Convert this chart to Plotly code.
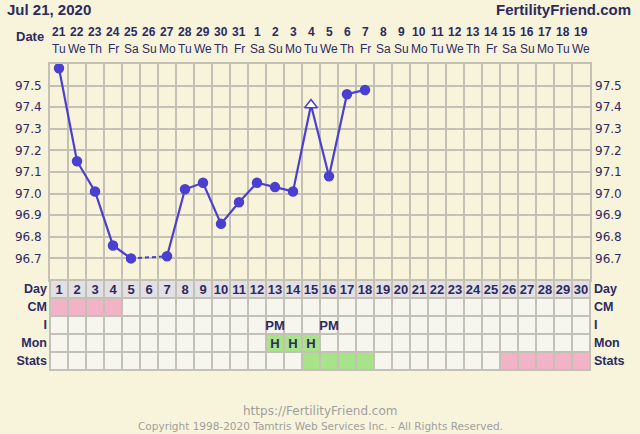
import plotly.graph_objects as go

# ---------------- data ----------------
days = list(range(1, 31))
dates = ["21", "22", "23", "24", "25", "26", "27", "28", "29", "30", "31",
         "1", "2", "3", "4", "5", "6", "7", "8", "9", "10", "11", "12",
         "13", "14", "15", "16", "17", "18", "19"]
weekdays = ["Tu", "We", "Th", "Fr", "Sa", "Su", "Mo", "Tu", "We", "Th", "Fr",
            "Sa", "Su", "Mo", "Tu", "We", "Th", "Fr", "Sa", "Su", "Mo", "Tu",
            "We", "Th", "Fr", "Sa", "Su", "Mo", "Tu", "We"]
temps = [97.58, 97.15, 97.01, 96.76, 96.70, None, 96.71, 97.02, 97.05, 96.86,
         96.96, 97.05, 97.03, 97.01, 97.41, 97.08, 97.46, 97.48] + [None] * 12
open_marker_days = [15]
temp_ticks = [96.7, 96.8, 96.9, 97.0, 97.1, 97.2, 97.3, 97.4, 97.5]

row_names = ["Day", "CM", "I", "Mon", "Stats"]
cm_pink_days = [1, 2, 3, 4]
intercourse = {13: "PM", 16: "PM"}
monitor = {13: "H", 14: "H", 15: "H"}
stats_green_days = [15, 16, 17, 18]
stats_pink_days = [26, 27, 28, 29, 30]

# ---------------- styles ----------------
BG = "#f8f4dc"
GRID = "#c3c0b6"
NAVY = "#2c2a60"
PURPLE = "#4b3fd0"
PINK = "#f3b3c6"
GREEN = "#a8e38a"
BLANK = "#f6f6ef"
HEAD = "#e2e0e4"

fig = go.Figure()

# dashed bridges across missing temps
bx, by = [], []
valid = [i for i, t in enumerate(temps) if t is not None]
for a, b in zip(valid, valid[1:]):
    if b - a > 1:
        bx += [days[a], days[b], None]
        by += [temps[a], temps[b], None]
fig.add_trace(go.Scatter(x=bx, y=by, mode="lines",
                         line=dict(color=PURPLE, width=2, dash="4px,3px"),
                         hoverinfo="skip", showlegend=False))

symbols = ["triangle-up" if d in open_marker_days else "circle" for d in days]
fills = ["white" if d in open_marker_days else PURPLE for d in days]
sizes = [11 if d in open_marker_days else 9 for d in days]
fig.add_trace(go.Scatter(x=days, y=temps, mode="lines+markers",
                         line=dict(color=PURPLE, width=2.2),
                         marker=dict(symbol=symbols, color=fills, size=sizes,
                                     opacity=1,
                                     line=dict(color=PURPLE, width=1.5)),
                         connectgaps=False, hoverinfo="skip", showlegend=False))
# right-axis anchor trace
fig.add_trace(go.Scatter(x=[days[0]], y=[temp_ticks[0]], yaxis="y3",
                         mode="markers", marker=dict(opacity=0),
                         hoverinfo="skip", showlegend=False))

# ---------------- table ----------------
z, txt = [], []
for r in row_names:
    zr, tr = [], []
    for d in days:
        if r == "Day":
            zr.append(3); tr.append(str(d))
        elif r == "CM":
            zr.append(1 if d in cm_pink_days else 0); tr.append("")
        elif r == "I":
            zr.append(0); tr.append(intercourse.get(d, ""))
        elif r == "Mon":
            zr.append(2 if d in monitor else 0); tr.append(monitor.get(d, ""))
        else:
            zr.append(2 if d in stats_green_days else (1 if d in stats_pink_days else 0))
            tr.append("")
    z.append(zr); txt.append(tr)

fig.add_trace(go.Heatmap(x=days, y=row_names, z=z, text=txt,
                         texttemplate="%{text}",
                         textfont=dict(family="Liberation Sans", size=13,
                                       color=NAVY, weight="bold"),
                         zmin=0, zmax=3, showscale=False,
                         colorscale=[[0, BLANK], [1/3, PINK], [2/3, GREEN], [1, HEAD]],
                         xgap=2, ygap=2, xaxis="x2", yaxis="y2",
                         hoverinfo="skip"))
fig.add_trace(go.Scatter(x=[days[0]] * len(row_names), y=row_names,
                         xaxis="x2", yaxis="y4", mode="markers",
                         marker=dict(opacity=0), hoverinfo="skip",
                         showlegend=False))

fig.add_shape(type="rect", xref="x2 domain", yref="y2 domain",
              x0=0, x1=1, y0=0, y1=1, fillcolor=GRID,
              line=dict(color=GRID, width=2), layer="below")

# ---------------- header annotations ----------------
H = 306.0
def py(p):
    return (370 - p) / H

ann = []
for d, dt, wd in zip(days, dates, weekdays):
    ann.append(dict(x=d, y=py(32), xref="x", yref="paper", text=dt,
                    showarrow=False, xanchor="center", yanchor="middle",
                    font=dict(family="Liberation Sans", size=12, color=NAVY,
                              weight="bold")))
    ann.append(dict(x=d, y=py(49.5), xref="x", yref="paper", text=wd,
                    showarrow=False, xanchor="center", yanchor="middle",
                    font=dict(family="Liberation Sans", size=12, color=NAVY)))
ann.append(dict(x=(46 - 50) / 540, y=py(36), xref="paper", yref="paper",
                text="Date", showarrow=False, xanchor="right", yanchor="middle",
                font=dict(family="Liberation Sans", size=13, color=NAVY,
                          weight="bold")))
ann.append(dict(x=(5 - 50) / 540, y=py(10), xref="paper", yref="paper",
                text="Jul 21, 2020", showarrow=False, xanchor="left",
                yanchor="middle",
                font=dict(family="Liberation Sans", size=15, color=NAVY,
                          weight="bold")))
ann.append(dict(x=(633 - 50) / 540, y=py(10), xref="paper", yref="paper",
                text="FertilityFriend.com", showarrow=False, xanchor="right",
                yanchor="middle",
                font=dict(family="Liberation Sans", size=15, color=NAVY,
                          weight="bold")))
ann.append(dict(x=0.5, y=py(411), xref="paper", yref="paper",
                text="https://FertilityFriend.com", showarrow=False,
                xanchor="center", yanchor="middle",
                font=dict(family="DejaVu Sans", size=12, color="#a09f9a")))
ann.append(dict(x=0.5, y=py(425.5), xref="paper", yref="paper",
                text="Copyright 1998-2020 Tamtris Web Services Inc. - All Rights Reserved.",
                showarrow=False, xanchor="center", yanchor="middle",
                font=dict(family="DejaVu Sans", size=10.5, color="#a09f9a")))

tdom = 90 / H
label_font = dict(family="Liberation Sans", size=12.5, color=NAVY, weight="bold")
tick_font = dict(family="DejaVu Sans", size=12, color=NAVY)
bounds = [d + 0.5 for d in days[:-1]]

fig.update_layout(
    width=640, height=434, autosize=False,
    margin=dict(l=50, r=50, t=64, b=64),
    paper_bgcolor=BG, plot_bgcolor=BG,
    annotations=ann,
    xaxis=dict(domain=[0, 1], anchor="y", range=[0.5, 30.5],
               tickmode="array", tickvals=bounds, showticklabels=False,
               ticks="", showgrid=True, gridcolor=GRID, gridwidth=2,
               zeroline=False, showline=True, mirror=True,
               linecolor=GRID, linewidth=2),
    yaxis=dict(domain=[tdom, 1], anchor="x", range=[96.6, 97.6],
               tickmode="array", tickvals=temp_ticks,
               ticktext=[f"{v:.1f}" for v in temp_ticks],
               tickfont=tick_font, ticks="", ticklabelstandoff=4,
               showgrid=True, gridcolor=GRID, gridwidth=2, zeroline=False,
               showline=True, mirror=True, linecolor=GRID, linewidth=2),
    yaxis3=dict(overlaying="y", side="right", anchor="x", range=[96.6, 97.6],
                tickmode="array", tickvals=temp_ticks,
                ticktext=[f"{v:.1f}" for v in temp_ticks],
                tickfont=tick_font, ticks="", ticklabelstandoff=4,
                showgrid=False, zeroline=False, showline=False),
    xaxis2=dict(domain=[0, 1], anchor="y2", matches="x", range=[0.5, 30.5],
                showticklabels=False, ticks="", showgrid=False,
                zeroline=False, showline=False),
    yaxis2=dict(domain=[0, tdom], anchor="x2", type="category",
                categoryorder="array", categoryarray=row_names,
                range=[4.5, -0.5], tickfont=label_font, ticks="",
                ticklabelstandoff=2, showgrid=False, zeroline=False,
                showline=False),
    yaxis4=dict(overlaying="y2", side="right", anchor="x2", type="category",
                categoryorder="array", categoryarray=row_names,
                range=[4.5, -0.5], tickfont=label_font, ticks="",
                ticklabelstandoff=3, showgrid=False, zeroline=False,
                showline=False),
)

fig.write_html("out.html", config={"displayModeBar": False},
               post_script="document.body.style.margin='0';document.body.style.background='" + BG + "';")
